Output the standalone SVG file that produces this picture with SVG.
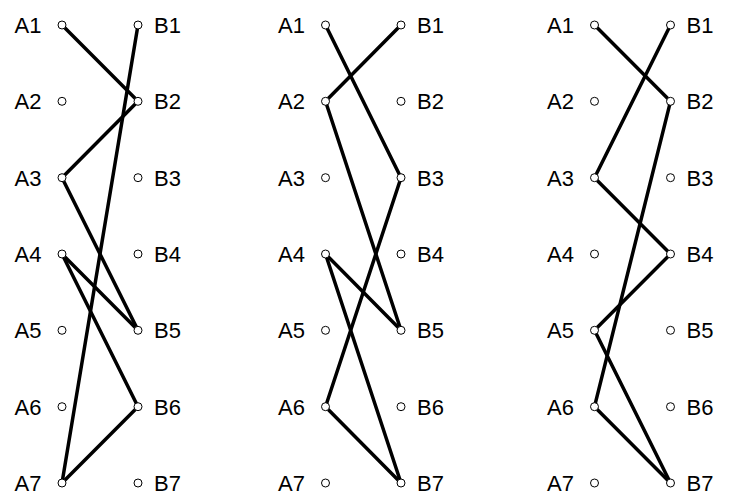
<svg xmlns="http://www.w3.org/2000/svg" width="729" height="498" viewBox="0 0 729 498">
<style>
.e{stroke:#000;stroke-width:3.5;fill:none;stroke-linecap:round}
.n{fill:#fff;stroke:#000;stroke-width:1}
.la{font-family:"Liberation Sans",Arial,sans-serif;font-size:22px;fill:#000;text-anchor:end}
.lb{font-family:"Liberation Sans",Arial,sans-serif;font-size:22px;fill:#000}
</style>
<rect width="729" height="498" fill="#fff"/>
<g id="connectors">
<line class="e" x1="62" y1="25" x2="138" y2="101.3"/>
<line class="e" x1="62" y1="177.7" x2="138" y2="101.3"/>
<line class="e" x1="62" y1="177.7" x2="138" y2="330.3"/>
<line class="e" x1="62" y1="254" x2="138" y2="330.3"/>
<line class="e" x1="62" y1="254" x2="138" y2="406.7"/>
<line class="e" x1="62" y1="483" x2="138" y2="406.7"/>
<line class="e" x1="62" y1="483" x2="138" y2="25"/>
<line class="e" x1="325.5" y1="25" x2="401" y2="177.7"/>
<line class="e" x1="325.5" y1="101.3" x2="401" y2="25"/>
<line class="e" x1="325.5" y1="101.3" x2="401" y2="330.3"/>
<line class="e" x1="325.5" y1="254" x2="401" y2="330.3"/>
<line class="e" x1="325.5" y1="254" x2="401" y2="483"/>
<line class="e" x1="325.5" y1="406.7" x2="401" y2="177.7"/>
<line class="e" x1="325.5" y1="406.7" x2="401" y2="483"/>
<line class="e" x1="594.5" y1="25" x2="670.5" y2="101.3"/>
<line class="e" x1="594.5" y1="177.7" x2="670.5" y2="25"/>
<line class="e" x1="594.5" y1="177.7" x2="670.5" y2="254"/>
<line class="e" x1="594.5" y1="330.3" x2="670.5" y2="254"/>
<line class="e" x1="594.5" y1="330.3" x2="670.5" y2="483"/>
<line class="e" x1="594.5" y1="406.7" x2="670.5" y2="101.3"/>
<line class="e" x1="594.5" y1="406.7" x2="670.5" y2="483"/>
</g>
<g id="p1-A1"><circle class="n" cx="62" cy="25" r="4"/><text class="la" x="41.5" y="33">A1</text></g>
<g id="p1-A2"><circle class="n" cx="62" cy="101.3" r="4"/><text class="la" x="41.5" y="109.3">A2</text></g>
<g id="p1-A3"><circle class="n" cx="62" cy="177.7" r="4"/><text class="la" x="41.5" y="185.7">A3</text></g>
<g id="p1-A4"><circle class="n" cx="62" cy="254" r="4"/><text class="la" x="41.5" y="262">A4</text></g>
<g id="p1-A5"><circle class="n" cx="62" cy="330.3" r="4"/><text class="la" x="41.5" y="338.3">A5</text></g>
<g id="p1-A6"><circle class="n" cx="62" cy="406.7" r="4"/><text class="la" x="41.5" y="414.7">A6</text></g>
<g id="p1-A7"><circle class="n" cx="62" cy="483" r="4"/><text class="la" x="41.5" y="491">A7</text></g>
<g id="p1-B1"><circle class="n" cx="138" cy="25" r="4"/><text class="lb" x="154" y="33">B1</text></g>
<g id="p1-B2"><circle class="n" cx="138" cy="101.3" r="4"/><text class="lb" x="154" y="109.3">B2</text></g>
<g id="p1-B3"><circle class="n" cx="138" cy="177.7" r="4"/><text class="lb" x="154" y="185.7">B3</text></g>
<g id="p1-B4"><circle class="n" cx="138" cy="254" r="4"/><text class="lb" x="154" y="262">B4</text></g>
<g id="p1-B5"><circle class="n" cx="138" cy="330.3" r="4"/><text class="lb" x="154" y="338.3">B5</text></g>
<g id="p1-B6"><circle class="n" cx="138" cy="406.7" r="4"/><text class="lb" x="154" y="414.7">B6</text></g>
<g id="p1-B7"><circle class="n" cx="138" cy="483" r="4"/><text class="lb" x="154" y="491">B7</text></g>
<g id="p2-A1"><circle class="n" cx="325.5" cy="25" r="4"/><text class="la" x="305" y="33">A1</text></g>
<g id="p2-A2"><circle class="n" cx="325.5" cy="101.3" r="4"/><text class="la" x="305" y="109.3">A2</text></g>
<g id="p2-A3"><circle class="n" cx="325.5" cy="177.7" r="4"/><text class="la" x="305" y="185.7">A3</text></g>
<g id="p2-A4"><circle class="n" cx="325.5" cy="254" r="4"/><text class="la" x="305" y="262">A4</text></g>
<g id="p2-A5"><circle class="n" cx="325.5" cy="330.3" r="4"/><text class="la" x="305" y="338.3">A5</text></g>
<g id="p2-A6"><circle class="n" cx="325.5" cy="406.7" r="4"/><text class="la" x="305" y="414.7">A6</text></g>
<g id="p2-A7"><circle class="n" cx="325.5" cy="483" r="4"/><text class="la" x="305" y="491">A7</text></g>
<g id="p2-B1"><circle class="n" cx="401" cy="25" r="4"/><text class="lb" x="417" y="33">B1</text></g>
<g id="p2-B2"><circle class="n" cx="401" cy="101.3" r="4"/><text class="lb" x="417" y="109.3">B2</text></g>
<g id="p2-B3"><circle class="n" cx="401" cy="177.7" r="4"/><text class="lb" x="417" y="185.7">B3</text></g>
<g id="p2-B4"><circle class="n" cx="401" cy="254" r="4"/><text class="lb" x="417" y="262">B4</text></g>
<g id="p2-B5"><circle class="n" cx="401" cy="330.3" r="4"/><text class="lb" x="417" y="338.3">B5</text></g>
<g id="p2-B6"><circle class="n" cx="401" cy="406.7" r="4"/><text class="lb" x="417" y="414.7">B6</text></g>
<g id="p2-B7"><circle class="n" cx="401" cy="483" r="4"/><text class="lb" x="417" y="491">B7</text></g>
<g id="p3-A1"><circle class="n" cx="594.5" cy="25" r="4"/><text class="la" x="574" y="33">A1</text></g>
<g id="p3-A2"><circle class="n" cx="594.5" cy="101.3" r="4"/><text class="la" x="574" y="109.3">A2</text></g>
<g id="p3-A3"><circle class="n" cx="594.5" cy="177.7" r="4"/><text class="la" x="574" y="185.7">A3</text></g>
<g id="p3-A4"><circle class="n" cx="594.5" cy="254" r="4"/><text class="la" x="574" y="262">A4</text></g>
<g id="p3-A5"><circle class="n" cx="594.5" cy="330.3" r="4"/><text class="la" x="574" y="338.3">A5</text></g>
<g id="p3-A6"><circle class="n" cx="594.5" cy="406.7" r="4"/><text class="la" x="574" y="414.7">A6</text></g>
<g id="p3-A7"><circle class="n" cx="594.5" cy="483" r="4"/><text class="la" x="574" y="491">A7</text></g>
<g id="p3-B1"><circle class="n" cx="670.5" cy="25" r="4"/><text class="lb" x="686.5" y="33">B1</text></g>
<g id="p3-B2"><circle class="n" cx="670.5" cy="101.3" r="4"/><text class="lb" x="686.5" y="109.3">B2</text></g>
<g id="p3-B3"><circle class="n" cx="670.5" cy="177.7" r="4"/><text class="lb" x="686.5" y="185.7">B3</text></g>
<g id="p3-B4"><circle class="n" cx="670.5" cy="254" r="4"/><text class="lb" x="686.5" y="262">B4</text></g>
<g id="p3-B5"><circle class="n" cx="670.5" cy="330.3" r="4"/><text class="lb" x="686.5" y="338.3">B5</text></g>
<g id="p3-B6"><circle class="n" cx="670.5" cy="406.7" r="4"/><text class="lb" x="686.5" y="414.7">B6</text></g>
<g id="p3-B7"><circle class="n" cx="670.5" cy="483" r="4"/><text class="lb" x="686.5" y="491">B7</text></g>
</svg>
